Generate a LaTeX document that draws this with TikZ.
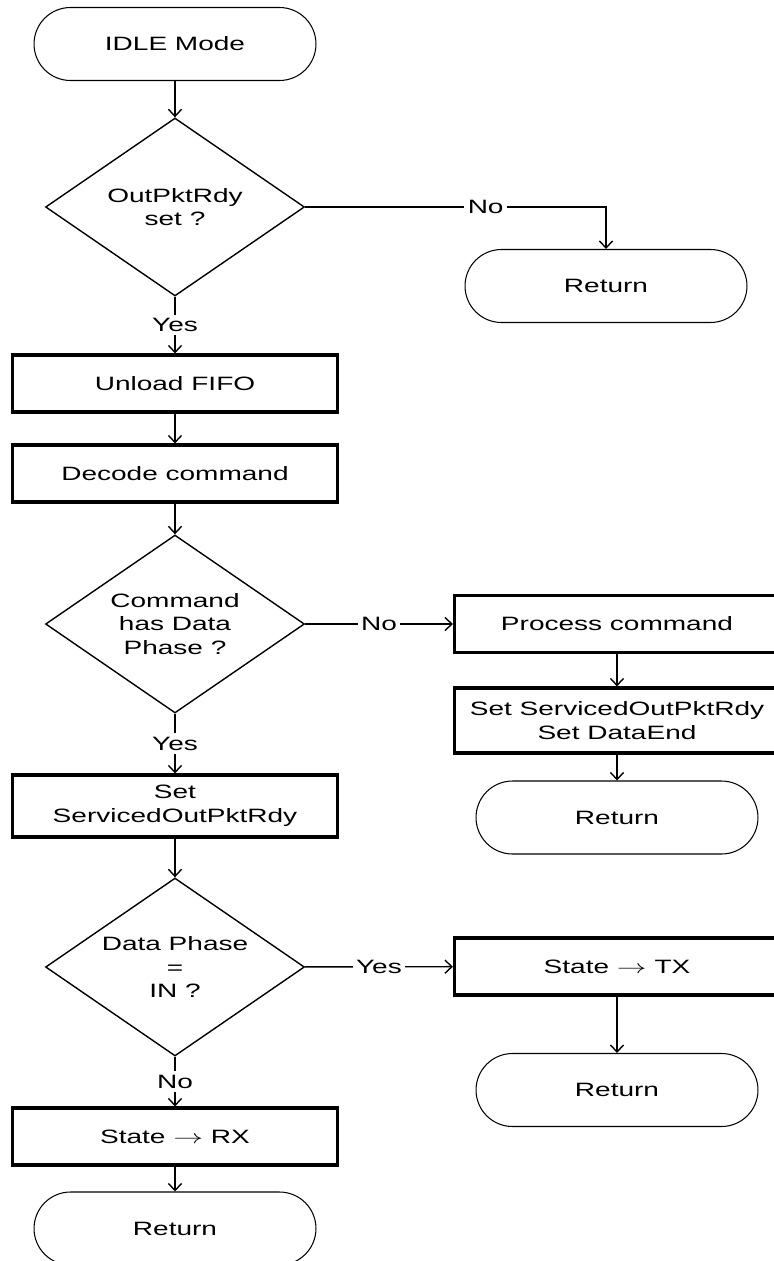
\documentclass[tikz,border=0pt]{standalone}
\usepackage{fontspec}
\setmainfont{Liberation Sans}[FakeStretch=1.45]
\usetikzlibrary{shapes.geometric,arrows.meta}
\newcommand{\goesto}{\scalebox{1.55}[1]{$\rightarrow$}}

\begin{document}
\begin{tikzpicture}[
            x=0.02cm, y=-0.02cm,
            font=\fontsize{11}{13.5}\selectfont,
            >={Straight Barb[length=4pt,width=7.5pt]},
            line width=0.8pt,
            box/.style={draw, rectangle, line width=1.8pt, minimum width=6.5cm, minimum height=1.14cm, align=center},
            decision/.style={draw, diamond, aspect=1.455, inner sep=0pt, minimum width=5.18cm, minimum height=3.56cm, align=center},
            term/.style={draw, rectangle, rounded corners=0.73cm, line width=0.6pt, minimum width=5.64cm, minimum height=1.46cm},
            lbl/.style={fill=white, inner sep=2pt}
        ]
            \clip (0,0) rectangle (774,1261);
            \node[term] (idle) at (175,44) {IDLE Mode};
            \node[decision] (rdy) at (175,207) {OutPktRdy\\set ?};
            \node[term] (ret1) at (606,286) {Return};
            \node[box] (unload) at (175,383.5) {Unload FIFO};
            \node[box] (decode) at (175,473.5) {Decode command};
            \node[decision] (phase) at (175,624) {Command\\has Data\\Phase ?};
            \node[box] (process) at (617,624) {Process command};
            \node[box, minimum height=1.3cm] (setend) at (617,720.5) {Set ServicedOutPktRdy\\Set DataEnd};
            \node[term] (ret2) at (617,817.5) {Return};
            \node[box, minimum height=1.24cm] (setsop) at (175,806) {Set\\ServicedOutPktRdy};
            \node[decision] (isin) at (175,967) {Data Phase\\=\\IN ?};
            \node[box] (tx) at (617,966.5) {State \goesto{} TX};
            \node[term] (ret3) at (617,1090) {Return};
            \node[box] (rx) at (175,1136.5) {State \goesto{} RX};
            \node[term] (ret4) at (175,1228.5) {Return};
            \draw[->] (idle) -- (rdy);
            \draw[->] (rdy.east) -| node[lbl, pos=0.3] {No} (ret1.north);
            \draw[->] (rdy) -- node[lbl] {Yes} (unload);
            \draw[->] (unload) -- (decode);
            \draw[->] (decode) -- (phase);
            \draw[->] (phase) -- node[lbl] {No} (process);
            \draw[->] (process) -- (setend);
            \draw[->] (setend) -- (ret2);
            \draw[->] (phase) -- node[lbl] {Yes} (setsop);
            \draw[->] (setsop) -- (isin);
            \draw[->] (isin) -- node[lbl] {Yes} (tx);
            \draw[->] (tx) -- (ret3);
            \draw[->] (isin) -- node[lbl] {No} (rx);
            \draw[->] (rx) -- (ret4);
        \end{tikzpicture}
\end{document}
